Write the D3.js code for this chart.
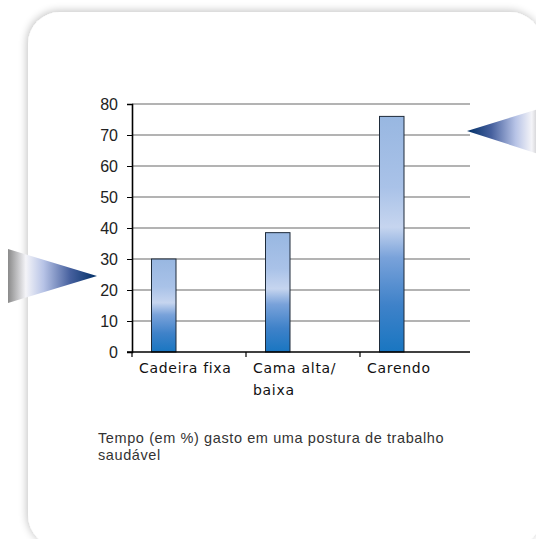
<!DOCTYPE html>
<html>
<head>
<meta charset="utf-8">
<script src="https://cdn.jsdelivr.net/npm/d3@7"></script>
<style>
  body { margin: 0; background: #fff; }
  svg { display: block; }
</style>
</head>
<body>
<svg id="svg" width="536" height="539"></svg>
<script>
// chart data
const categories = ["Cadeira fixa", "Cama alta/ baixa", "Carendo"];
const values = [30, 38.5, 76];
const yTicks = [0, 10, 20, 30, 40, 50, 60, 70, 80];
const captionLines = ["Tempo (em %) gasto em uma postura de trabalho", "saudável"];

const svg = d3.select("#svg");
const defs = svg.append("defs");

// card shadow
const shadow = defs.append("filter").attr("id", "shadow")
  .attr("x", "-10%").attr("y", "-10%").attr("width", "120%").attr("height", "120%");
shadow.append("feGaussianBlur").attr("in", "SourceAlpha").attr("stdDeviation", 4);
shadow.append("feOffset").attr("dx", -1).attr("dy", -1).attr("result", "blur");
shadow.append("feComponentTransfer").append("feFuncA").attr("type", "linear").attr("slope", 0.25);
const merge = shadow.append("feMerge");
merge.append("feMergeNode");
merge.append("feMergeNode").attr("in", "SourceGraphic");

// bar gradient
const barGrad = defs.append("linearGradient").attr("id", "barGrad")
  .attr("x1", 0).attr("y1", 0).attr("x2", 0).attr("y2", 1);
[[0, "#98b7e1"], [0.3, "#a9c2e8"], [0.47, "#c6d5ef"], [0.6, "#79a2da"], [0.8, "#3f82c9"], [1, "#1976c1"]]
  .forEach(([o, c]) => barGrad.append("stop").attr("offset", o).attr("stop-color", c));

// triangle gradients
const triStops = [[0, "#8a8a8a"], [0.2, "#f4f4f8"], [0.4, "#b7c3e6"], [0.7, "#46609e"], [1, "#002f66"]];
const triL = defs.append("linearGradient").attr("id", "triL")
  .attr("x1", 0).attr("y1", 0).attr("x2", 1).attr("y2", 0);
triStops.forEach(([o, c]) => triL.append("stop").attr("offset", o).attr("stop-color", c));
const triR = defs.append("linearGradient").attr("id", "triR")
  .attr("x1", 1).attr("y1", 0).attr("x2", 0).attr("y2", 0);
triStops.forEach(([o, c]) => triR.append("stop").attr("offset", o).attr("stop-color", c));

// card
svg.append("rect")
  .attr("x", 28).attr("y", 12).attr("width", 514).attr("height", 535)
  .attr("rx", 32).attr("fill", "#fff").attr("filter", "url(#shadow)");

// scales
const x = d3.scaleBand().domain(categories).range([132, 474]);
const y = d3.scaleLinear().domain([0, 80]).range([352, 104]);

const g = svg.append("g");

// gridlines
g.selectAll("line.grid")
  .data(yTicks.filter((d) => d > 0))
  .enter()
  .append("line")
  .attr("class", "grid")
  .attr("x1", 132).attr("x2", 470)
  .attr("y1", (d) => y(d)).attr("y2", (d) => y(d))
  .attr("stroke", "#9a9a9a").attr("stroke-width", 1.3);

// y axis
const yAxis = g.append("g")
  .attr("transform", "translate(132,0)")
  .call(d3.axisLeft(y).tickValues(yTicks).tickSize(5).tickPadding(9));
yAxis.select(".domain").attr("stroke", "#000").attr("stroke-width", 1.6);
yAxis.selectAll(".tick line").attr("stroke", "#000");
yAxis.selectAll("text")
  .attr("font-family", "Liberation Sans, Arial, sans-serif")
  .attr("font-size", 16).attr("fill", "#222");

// bars
g.selectAll("rect.bar")
  .data(values)
  .enter()
  .append("rect")
  .attr("class", "bar")
  .attr("x", (d, i) => x(categories[i]) + 19.5)
  .attr("width", 24.5)
  .attr("y", (d) => y(d))
  .attr("height", (d) => y(0) - y(d))
  .attr("fill", "url(#barGrad)")
  .attr("stroke", "#1e2b3a").attr("stroke-width", 1);

// x axis
g.append("line")
  .attr("x1", 127).attr("x2", 470).attr("y1", 352).attr("y2", 352)
  .attr("stroke", "#000").attr("stroke-width", 1.3);
g.selectAll("line.xtick")
  .data(categories)
  .enter()
  .append("line")
  .attr("x1", (d) => x(d)).attr("x2", (d) => x(d))
  .attr("y1", 352).attr("y2", 357)
  .attr("stroke", "#000").attr("stroke-width", 1.2);

// category labels
g.selectAll("text.cat")
  .data(categories)
  .enter()
  .append("text")
  .attr("class", "cat")
  .attr("font-family", "DejaVu Sans, Verdana, sans-serif")
  .attr("font-size", 14)
  .attr("letter-spacing", 0.7)
  .attr("fill", "#111")
  .each(function (d) {
    const t = d3.select(this);
    const lines = d === "Cama alta/ baixa" ? ["Cama alta/", "baixa"] : [d];
    lines.forEach((l, i) => {
      t.append("tspan").attr("x", x(d) + 7).attr("y", 373 + i * 22).text(l);
    });
  });

// caption
svg.append("text")
  .attr("font-family", "Liberation Sans, Arial, sans-serif")
  .attr("font-size", 14.5).attr("letter-spacing", 0.6).attr("fill", "#333")
  .selectAll("tspan")
  .data(captionLines)
  .enter()
  .append("tspan")
  .attr("x", 98)
  .attr("y", (d, i) => 443 + i * 17)
  .text((d) => d);

// decorative triangles
svg.append("path")
  .attr("d", "M8,249 L8,303 L97,276 Z")
  .attr("fill", "url(#triL)");
svg.append("path")
  .attr("d", "M548,106 L548,157 L467,131 Z")
  .attr("fill", "url(#triR)");
</script>
</body>
</html>
